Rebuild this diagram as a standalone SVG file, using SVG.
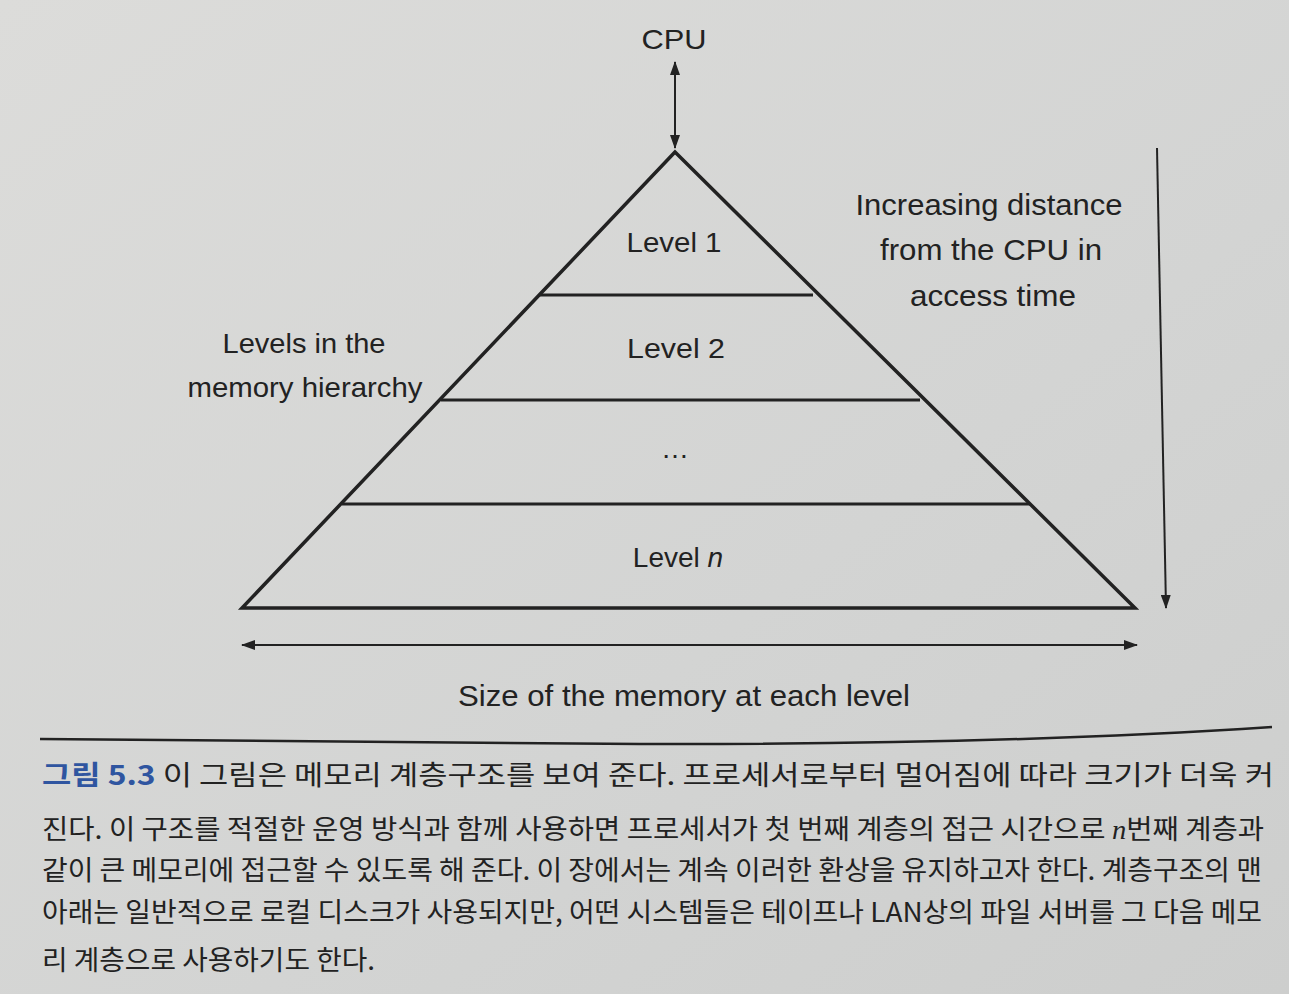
<svg xmlns="http://www.w3.org/2000/svg" width="1289" height="994" viewBox="0 0 1289 994">
<defs>
<marker id="ah" viewBox="0 0 14 10" refX="13" refY="5" markerWidth="14" markerHeight="10" markerUnits="userSpaceOnUse" orient="auto-start-reverse">
<path d="M0,0 L14,5 L0,10 Z" fill="#222"/>
</marker>
<linearGradient id="bg" x1="0" y1="0" x2="1" y2="1">
<stop offset="0" stop-color="#dcdcda"/>
<stop offset="0.6" stop-color="#d3d4d3"/>
<stop offset="1" stop-color="#cdcecd"/>
</linearGradient>
</defs>
<style>
.t{font-family:"Liberation Sans",Arial,sans-serif;fill:#222;text-anchor:middle}
.k{font-family:"Noto Sans CJK KR","Noto Sans",sans-serif;fill:#222;font-size:27px}
.sh{fill:none;stroke:#222;stroke-width:3.5;stroke-linejoin:miter}
.lv{stroke:#222;stroke-width:3}
.ar{stroke:#222;stroke-width:2;fill:none}
</style>
<rect x="0" y="0" width="1289" height="994" fill="url(#bg)"/>

<g id="pyramid">
<polygon class="sh" points="675,152 242,608 1135,608"/>
<line class="lv" x1="539" y1="295" x2="813" y2="295"/>
<line class="lv" x1="441" y1="400" x2="920" y2="400"/>
<line class="lv" x1="342" y1="504" x2="1030" y2="504"/>
</g>

<g id="level1"><text class="t" x="674" y="252" font-size="28" textLength="95" lengthAdjust="spacingAndGlyphs">Level 1</text></g>
<g id="level2"><text class="t" x="676" y="358" font-size="28" textLength="98" lengthAdjust="spacingAndGlyphs">Level 2</text></g>
<g id="levelDots"><text class="t" x="675" y="458" font-size="28">…</text></g>
<g id="levelN"><text class="t" x="678" y="567" font-size="28">Level <tspan font-style="italic">n</tspan></text></g>

<g id="cpu"><text class="t" x="674" y="49" font-size="28" textLength="65" lengthAdjust="spacingAndGlyphs">CPU</text></g>

<g id="labelLevels">
<text class="t" x="304" y="353" font-size="28" textLength="163" lengthAdjust="spacingAndGlyphs">Levels in the</text>
<text class="t" x="305" y="397" font-size="28" textLength="235" lengthAdjust="spacingAndGlyphs">memory hierarchy</text>
</g>

<g id="labelDistance">
<text class="t" x="989" y="215" font-size="29" textLength="267" lengthAdjust="spacingAndGlyphs">Increasing distance</text>
<text class="t" x="991" y="260" font-size="29" textLength="222" lengthAdjust="spacingAndGlyphs">from the CPU in</text>
<text class="t" x="993" y="306" font-size="29" textLength="166" lengthAdjust="spacingAndGlyphs">access time</text>
</g>

<g id="labelSize"><text class="t" x="684" y="706" font-size="29" textLength="452" lengthAdjust="spacingAndGlyphs">Size of the memory at each level</text></g>

<g id="connectors">
<line class="ar" x1="675" y1="62" x2="675" y2="148" marker-start="url(#ah)" marker-end="url(#ah)"/>
<line class="ar" x1="1157" y1="148" x2="1166" y2="608" marker-end="url(#ah)"/>
<line class="ar" x1="242" y1="645" x2="1137" y2="645" marker-start="url(#ah)" marker-end="url(#ah)"/>
</g>

<g id="caption">
<path d="M40,739 L640,744 Q1000,745 1272,727" fill="none" stroke="#222" stroke-width="2.5"/>
<text class="k" x="42" y="785" font-size="28" textLength="1232" lengthAdjust="spacingAndGlyphs"><tspan fill="#2f55a0" font-weight="bold">그림 5.3</tspan> 이 그림은 메모리 계층구조를 보여 준다. 프로세서로부터 멀어짐에 따라 크기가 더욱 커</text>
<text class="k" x="42" y="839" textLength="1222" lengthAdjust="spacingAndGlyphs">진다. 이 구조를 적절한 운영 방식과 함께 사용하면 프로세서가 첫 번째 계층의 접근 시간으로 <tspan font-style="italic" font-family="Liberation Serif, serif">n</tspan>번째 계층과</text>
<text class="k" x="42" y="880" textLength="1220" lengthAdjust="spacingAndGlyphs">같이 큰 메모리에 접근할 수 있도록 해 준다. 이 장에서는 계속 이러한 환상을 유지하고자 한다. 계층구조의 맨</text>
<text class="k" x="42" y="922" textLength="1220" lengthAdjust="spacingAndGlyphs">아래는 일반적으로 로컬 디스크가 사용되지만, 어떤 시스템들은 테이프나 LAN상의 파일 서버를 그 다음 메모</text>
<text class="k" x="42" y="970" textLength="333" lengthAdjust="spacingAndGlyphs">리 계층으로 사용하기도 한다.</text>
</g>
</svg>
